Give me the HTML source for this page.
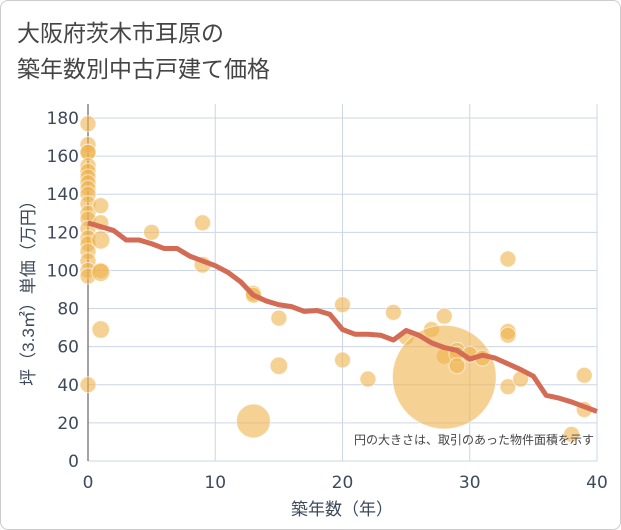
<!DOCTYPE html>
<html><head><meta charset="utf-8"><style>
body{margin:0;background:#fff;}
.wrap{width:619px;height:528px;border:1px solid #ccc;border-radius:8px;position:relative;font-family:"Liberation Sans","Noto Sans CJK JP",sans-serif;overflow:hidden;}
.tk{font-family:"DejaVu Sans",sans-serif;}
</style></head><body>
<div class="wrap">
<svg width="621" height="530" id="svg">
<text x="16" y="40" font-size="23" fill="#444">大阪府茨木市耳原の</text>
<text x="16" y="76" font-size="23" fill="#444">築年数別中古戸建て価格</text>
<g id="grid"></g><g id="marks"></g>
<text x="593" y="443" font-size="12" fill="#444" text-anchor="end">円の大きさは、取引のあった物件面積を示す</text>
<text x="341" y="514" font-size="17" fill="#3d4a5c" text-anchor="middle">築年数（年）</text>
<text transform="translate(33,288) rotate(-90)" font-size="17" fill="#3d4a5c" text-anchor="middle">坪（3.3㎡）単価（万円）</text>
</svg></div>
<script>
const xTicks=[0,10,20,30,40];
const yTicks=[0,20,40,60,80,100,120,140,160,180];
const ptYears=[0,0,0,0,0,0,0,0,0,0,0,0,0,0,0,0,0,0,0,0,0,1,1,1,1,1,1,5,9,9,13,13,13,15,15,20,20,22,24,25,27,28,28,28,29,29,29,30,31,33,33,33,33,34,39,39,38];
const ptPrices=[177,166,162,162,155,152,149,146,143,140,135,130,127,122,117,114,110,105,100,97,40,134,125,116,100,99,69,120,125,103,88,87,21,75,50,82,53,43,78,65,69,76,55,44,58,56,50,56,54,106,68,66,39,43,45,27,14];
const ptSizes=[1,1,1,1,1,1,1,1,1,1,1,1,1,1,1,1,1,1,1,1,1,1,1,1.3,1,1.3,1.2,1,1,1.1,1,1,4.5,1,1.2,1,1,1,1,1,1,1,1,42,1,1,1,1,1,1,1,1,1,1,1,1,1];
const lineYears=[0,1,2,3,4,5,6,7,8,9,10,11,12,13,14,15,16,17,18,19,20,21,22,23,24,25,26,27,28,29,30,31,32,33,34,35,36,37,38,39,40];
const lineValues=[125,123,121,116,116,114,111.5,111.5,107.5,105,102.5,99,94,87,84,82,81,78.5,79,77,69,66.5,66.5,66,63.5,68.5,66,62,59.5,58,53.5,55.5,54,51,48,44.5,34.5,33,31,28.5,26];
const X=v=>87+v*(596-87)/40, Y=v=>460-v*(460-117)/180;
const NS='http://www.w3.org/2000/svg';
const grid=document.getElementById('grid'),marks=document.getElementById('marks');
function mk(p,tag,a){const e=document.createElementNS(NS,tag);for(const k in a)e.setAttribute(k,a[k]);p.appendChild(e);return e;}
yTicks.forEach(t=>{const l=mk(grid,'line',{x1:87,x2:596,y1:Y(t),y2:Y(t),stroke:'#ccd6e6','stroke-width':1});

const tx=mk(grid,'text',{x:78,y:Y(t)+6,'font-size':17,fill:'#3d4a5c','text-anchor':'end','class':'tk'});tx.textContent=t;
});
xTicks.forEach(t=>{const l=mk(grid,'line',{x1:X(t),x2:X(t),y1:103,y2:460,stroke:'#ccd6e6','stroke-width':1});

const tx=mk(grid,'text',{x:X(t),y:487,'font-size':17,fill:'#3d4a5c','text-anchor':'middle','class':'tk'});tx.textContent=t;
});
const ax=mk(grid,'line',{x1:87,x2:87,y1:103,y2:460,stroke:'#444','stroke-width':1});

ptYears.forEach((yr,i)=>{const c=mk(marks,'circle',{cx:X(yr),cy:Y(ptPrices[i]),r:8*Math.sqrt(ptSizes[i]),fill:'#f0b34d','fill-opacity':0.6,stroke:'#fff','stroke-opacity':0.6,'stroke-width':1});
});
const pl=mk(marks,'polyline',{points:lineYears.map((y,i)=>X(y)+','+Y(lineValues[i])).join(' '),fill:'none',stroke:'#d36b55','stroke-width':5,'stroke-linejoin':'round'});

</script>
</body></html>
